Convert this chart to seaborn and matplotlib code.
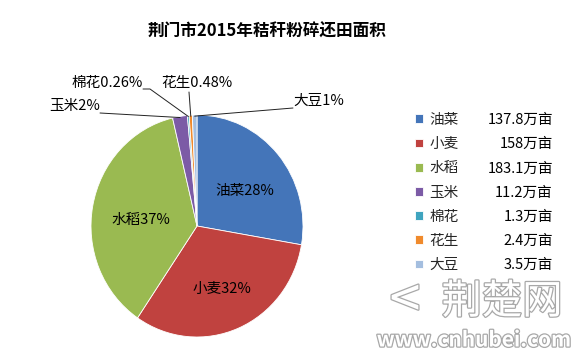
import matplotlib
matplotlib.use("Agg")
import matplotlib.pyplot as plt
import matplotlib.patheffects as pe
import numpy as np
import seaborn as sns

# data
crops = ["油菜", "小麦", "水稻", "玉米", "棉花", "花生", "大豆"]
area = [137.8, 158, 183.1, 11.2, 1.3, 2.4, 3.5]
area_text = ["137.8万亩", "158万亩", "183.1万亩", "11.2万亩", "1.3万亩", "2.4万亩", "3.5万亩"]
pct_text = ["28%", "32%", "37%", "2%", "0.26%", "0.48%", "1%"]
colors = ["#4475b9", "#c0423f", "#9aba51", "#7c5ba6", "#3fa4bf", "#f08a2c", "#a4bedf"]

sns.set_theme(style="white")
plt.rcParams['font.family'] = ['Noto Sans CJK SC', 'DejaVu Sans']

W, H = 572, 359
fig = plt.figure(figsize=(W / 100, H / 100), dpi=100)
fig.patch.set_facecolor("white")

# pie centre / radii in pixels
cx, cy, rx, ry = 197, 226, 106, 111
ax = fig.add_axes([(cx - rx) / W, (H - cy - ry) / H, 2 * rx / W, 2 * ry / H])
wedges, _ = ax.pie(area, colors=colors, startangle=90, counterclock=False,
                   wedgeprops=dict(edgecolor="white", linewidth=0.6))
ax.set_xlim(-1, 1)
ax.set_ylim(-1, 1)
ax.set_aspect("auto")
ax.axis("off")


def to_data(px, py):
    return (px - cx) / rx, (cy - py) / ry


fs = 10.5
# big slices: labels inside
for i in range(3):
    w = wedges[i]
    th = np.deg2rad((w.theta1 + w.theta2) / 2)
    ax.text(0.56 * np.cos(th) + 0.02, 0.56 * np.sin(th) - 0.05, crops[i] + pct_text[i],
            ha="center", va="center", fontsize=fs, color="black")


def edge(i):
    w = wedges[i]
    th = np.deg2rad((w.theta1 + w.theta2) / 2)
    return 0.99 * np.cos(th), 0.99 * np.sin(th)


# small slices: labels outside with leader lines
outside = {
    3: dict(txt=(100, 106), ha="right", line=[(100, 113)]),
    4: dict(txt=(143, 83), ha="right", line=[(143, 89), (150, 89)]),
    5: dict(txt=(197, 83), ha="center", line=[(189, 92)]),
    6: dict(txt=(293, 101), ha="left", line=[(293, 108)]),
}
for i, o in outside.items():
    tx, ty = to_data(*o["txt"])
    ax.text(tx, ty, crops[i] + pct_text[i], ha=o["ha"], va="center",
            fontsize=fs, color="black", clip_on=False)
    pts = [to_data(*p) for p in o["line"]] + [edge(i)]
    xs, ys = zip(*pts)
    ax.plot(xs, ys, color="#222222", lw=0.7, clip_on=False)

# title
fig.text(267 / W, 1 - 32 / H, "荆门市2015年秸秆粉碎还田面积", ha="center", va="center",
         fontsize=12, fontweight="bold", color="black")

# legend
leg = ax.legend(wedges, crops, loc="upper left", bbox_to_anchor=(415 / W, 1 - 113 / H),
                bbox_transform=fig.transFigure, frameon=False, fontsize=fs,
                handlelength=0.55, handleheight=0.55, handletextpad=0.45,
                labelspacing=0.7, borderpad=0, borderaxespad=0)
fig.canvas.draw()
inv = fig.transFigure.inverted()
for t, s in zip(leg.get_texts(), area_text):
    bb = t.get_window_extent()
    yc = inv.transform(((bb.x0 + bb.x1) / 2, (bb.y0 + bb.y1) / 2))[1]
    fig.text(553 / W, yc, s, ha="right", va="center", fontsize=fs, color="black")

# watermark
stroke = [pe.withStroke(linewidth=1.8, foreground="#a8a8a8")]
fig.text(474 / W, 1 - 340 / H, "www.cnhubei.com", ha="center", va="center",
         fontsize=15, fontweight="heavy", color="white", path_effects=stroke)
fig.text(502 / W, 1 - 302 / H, "荆楚网", ha="center", va="center",
         fontsize=29, fontstyle="italic", color="white", path_effects=stroke)
fig.text(405 / W, 1 - 302 / H, "<", ha="center", va="center",
         fontsize=40, color="white", path_effects=stroke)

fig.savefig("out.png", dpi=100, facecolor="white")
